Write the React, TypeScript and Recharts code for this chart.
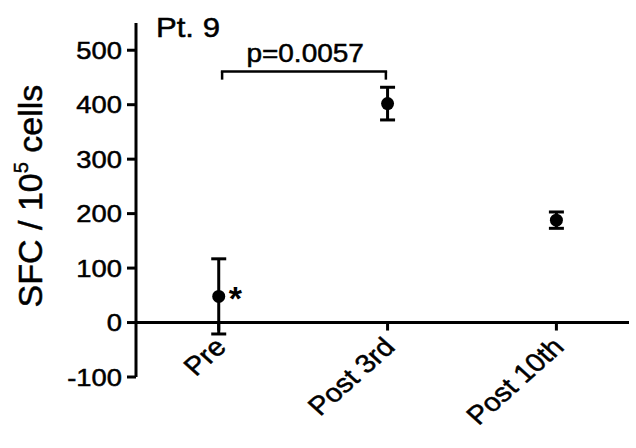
import {
  ScatterChart,
  Scatter,
  XAxis,
  YAxis,
  ErrorBar,
  ReferenceLine,
  ReferenceDot,
} from "recharts";

// values (SFC / 10^5 cells)
const categories = ["Pre", "Post 3rd", "Post 10th"];
const means = [48, 402, 188];
const errors = [69, 30, 15];
const notes = ["*", "", ""];
const yTicks = [-100, 0, 100, 200, 300, 400, 500];

// significance bracket between Pre and Post 3rd
const pText = "p=0.0057";
const bracketFrom = 0.02;
const bracketTo = 0.99;
const bracketTop = 461;
const bracketFoot = 446;
const pLabelY = 478;

const font = '"Liberation Sans", Arial, Helvetica, sans-serif';
const ink = "#000";

const points = categories.map((name, i) => ({
  x: i,
  y: means[i],
  err: errors[i],
  note: notes[i],
  name,
}));

const axisMarks = categories.map((name, i) => ({ x: i, y: 0, name }));

function Dot(props: any) {
  const { cx, cy, payload } = props;
  return (
    <g>
      <circle cx={cx} cy={cy} r={6.5} fill={ink} />
      {payload.note ? (
        <text
          x={cx + 10}
          y={cy + 14}
          fontSize={34}
          fontWeight="bold"
          fontFamily={font}
          fill={ink}
        >
          {payload.note}
        </text>
      ) : null}
    </g>
  );
}

function AxisMark(props: any) {
  const { cx, cy, payload } = props;
  return (
    <g>
      <line x1={cx} y1={cy} x2={cx} y2={cy + 8} stroke={ink} strokeWidth={3} />
      <text
        transform={`translate(${cx + 9},${cy + 26}) scale(1.12,1) rotate(-45)`}
        textAnchor="end"
        fontSize={26}
        fontFamily={font}
        fill={ink}
        stroke={ink}
        strokeWidth={0.5}
      >
        {payload.name}
      </text>
    </g>
  );
}

function YTick(props: any) {
  const { x, y, payload } = props;
  return (
    <text
      transform={`translate(${x},${y}) scale(1.14,1)`}
      textAnchor="end"
      dy="0.355em"
      fontSize={24}
      fontFamily={font}
      fill={ink}
      stroke={ink}
      strokeWidth={0.5}
    >
      {payload.value}
    </text>
  );
}

function YLabel(props: any) {
  const vb = props.viewBox || { x: 0, y: 23, width: 136, height: 353 };
  const cy = vb.y + vb.height / 2 - 4;
  return (
    <text
      transform={`translate(${vb.x + 42},${cy}) rotate(-90)`}
      textAnchor="middle"
      fontSize={34}
      fontFamily={font}
      fill={ink}
      stroke={ink}
      strokeWidth={0.5}
    >
      SFC / 10
      <tspan fontSize={20} dy={-14}>
        5
      </tspan>
      <tspan dy={14}> cells</tspan>
    </text>
  );
}

function PLabel(props: any) {
  const { cx, cy } = props;
  return (
    <text
      transform={`translate(${cx + 2},${cy}) scale(1.12,1)`}
      textAnchor="middle"
      fontSize={25}
      fontFamily={font}
      fill={ink}
      stroke={ink}
      strokeWidth={0.5}
    >
      {pText}
    </text>
  );
}

export default function App() {
  return (
    <div
      style={{
        position: "absolute",
        left: 0,
        top: 0,
        width: 636,
        height: 448,
        background: "#fff",
      }}
    >
      <ScatterChart
        width={636}
        height={448}
        margin={{ top: 23, right: 7, bottom: 71, left: 0 }}
      >
        <XAxis
          type="number"
          dataKey="x"
          domain={[-0.49, 2.43]}
          hide
        />
        <YAxis
          type="number"
          dataKey="y"
          domain={[-100, 550]}
          ticks={yTicks}
          width={136}
          axisLine={{ stroke: ink, strokeWidth: 3 }}
          tickLine={{ stroke: ink, strokeWidth: 3 }}
          tickSize={9}
          tickMargin={5}
          tick={<YTick />}
          label={<YLabel />}
        />

        <ReferenceLine y={0} stroke={ink} strokeWidth={3} />

        <ReferenceLine
          segment={[
            { x: bracketFrom, y: bracketTop },
            { x: bracketTo, y: bracketTop },
          ]}
          stroke={ink}
          strokeWidth={2.5}
          strokeLinecap="square"
        />
        <ReferenceLine
          segment={[
            { x: bracketFrom, y: bracketTop },
            { x: bracketFrom, y: bracketFoot },
          ]}
          stroke={ink}
          strokeWidth={2.5}
        />
        <ReferenceLine
          segment={[
            { x: bracketTo, y: bracketTop },
            { x: bracketTo, y: bracketFoot },
          ]}
          stroke={ink}
          strokeWidth={2.5}
        />
        <ReferenceDot
          x={0.5}
          y={pLabelY}
          r={0}
          shape={<PLabel />}
        />

        <Scatter
          data={axisMarks}
          shape={<AxisMark />}
          isAnimationActive={false}
        />

        <Scatter
          data={points}
          shape={<Dot />}
          isAnimationActive={false}
        >
          <ErrorBar
            dataKey="err"
            direction="y"
            width={7.5}
            stroke={ink}
            strokeWidth={3}
          />
        </Scatter>
      </ScatterChart>

      <div
        style={{
          position: "absolute",
          left: 156,
          top: 14,
          fontFamily: font,
          fontSize: 28,
          lineHeight: 1,
          color: ink,
          transform: "scaleX(1.11)",
          transformOrigin: "left top",
          whiteSpace: "nowrap",
          WebkitTextStroke: "0.5px #000",
        }}
      >
        Pt. 9
      </div>
    </div>
  );
}
